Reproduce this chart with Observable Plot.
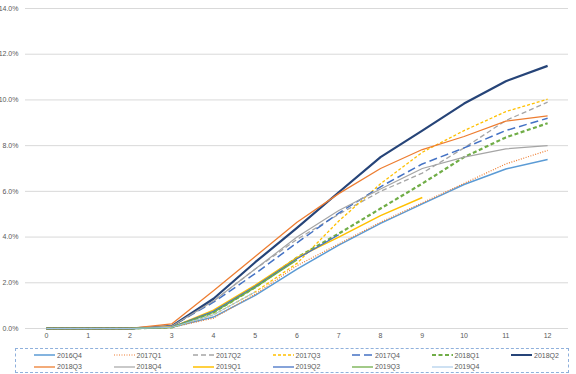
<!DOCTYPE html>
<html><head><meta charset="utf-8">
<script src="https://cdn.jsdelivr.net/npm/d3@7"></script>
<script src="https://cdn.jsdelivr.net/npm/@observablehq/plot@0.6"></script>
<style>
body{margin:0;background:#fff;font-family:"Liberation Sans",Arial,sans-serif}
#chart{position:relative;width:576px;height:374px;overflow:hidden}
#legend{position:absolute;left:15px;top:348px;width:554px;height:25px;border:1px dashed #8fb0dc;box-sizing:border-box}
.item{position:absolute;height:10px;display:flex;align-items:center;font-size:7px;color:#595959}
.item svg{margin-right:2px}
</style></head><body>
<div id="chart"></div>
<script>
const periods = [0,1,2,3,4,5,6,7,8,9,10,11,12];
const seriesNames = ["2016Q4","2017Q1","2017Q2","2017Q3","2017Q4","2018Q1","2018Q2","2018Q3","2018Q4","2019Q1","2019Q2","2019Q3","2019Q4"];
const s2016Q4 = [0,0,0,0.05,0.5,1.45,2.6,3.65,4.6,5.45,6.3,6.98,7.39];
const s2017Q1 = [0,0,0,0.05,0.45,1.5,2.75,3.7,4.65,5.5,6.35,7.2,7.79];
const s2017Q2 = [0,0,0,0.1,1.2,2.6,3.9,5.0,6.0,6.8,7.9,9.1,9.9];
const s2017Q3 = [0,0,0,0.05,0.6,1.6,2.85,4.7,6.33,7.71,8.66,9.49,10.03];
const s2017Q4 = [0,0,0,0.1,1.15,2.4,3.75,5.05,6.2,7.2,7.9,8.66,9.2];
const s2018Q1 = [0,0,0,0.05,0.7,1.8,3.1,4.15,5.25,6.34,7.5,8.36,8.98];
const s2018Q2 = [0,0,0,0.1,1.3,2.9,4.4,5.96,7.5,8.66,9.84,10.82,11.49];
const s2018Q3 = [0,0,0,0.2,1.65,3.15,4.65,5.9,7.0,7.83,8.4,9.07,9.3];
const s2018Q4 = [0,0,0,0.1,1.2,2.6,4.0,5.16,6.1,7.0,7.5,7.86,8.0];
const s2019Q1 = [0,0,0,0.05,0.8,1.9,3.1,4.0,4.94,5.73];
const s2019Q2 = [0,0,0,0.05,0.75,1.85,3.05,4.1];
const s2019Q3 = [0,0,0,0.05,0.7,1.8,3.0];
const s2019Q4 = [0,0,0,0.05,0.6,1.6];
const yTicks = [0,2,4,6,8,10,12,14];

const values = [s2016Q4,s2017Q1,s2017Q2,s2017Q3,s2017Q4,s2018Q1,s2018Q2,s2018Q3,s2018Q4,s2019Q1,s2019Q2,s2019Q3,s2019Q4];
const styles = [
  {stroke:"#5B9BD5", width:1.5, dash:null},
  {stroke:"#ED7D31", width:1.2, dash:"1,1.5"},
  {stroke:"#A5A5A5", width:1.3, dash:"5,3"},
  {stroke:"#FFC000", width:1.3, dash:"3,2"},
  {stroke:"#4472C4", width:1.5, dash:"8,4"},
  {stroke:"#70AD47", width:2.2, dash:"4,2.5"},
  {stroke:"#264478", width:2.2, dash:null},
  {stroke:"#ED7D31", width:1.3, dash:null},
  {stroke:"#A5A5A5", width:1.2, dash:null},
  {stroke:"#FFC000", width:1.5, dash:null},
  {stroke:"#4472C4", width:1.3, dash:null},
  {stroke:"#70AD47", width:1.3, dash:null},
  {stroke:"#9DC3E6", width:1.0, dash:null}
];

const rows = [];
seriesNames.forEach((name, i) => values[i].forEach((v, j) => rows.push({series:name, x:periods[j], y:v})));

const lineMarks = seriesNames.map((name, i) => Plot.line(rows.filter(r => r.series === name), {
  x:"x", y:"y", stroke: styles[i].stroke, strokeWidth: styles[i].width,
  strokeDasharray: styles[i].dash ?? undefined, strokeLinejoin:"round", strokeLinecap:"butt"
}));

const chart = Plot.plot({
  width:576, height:345,
  marginLeft:25, marginRight:8, marginTop:8, marginBottom:17,
  style:{fontFamily:"Liberation Sans, Arial, sans-serif", fontSize:"7px", color:"#595959", background:"#fff"},
  x:{domain:[-0.5,12.5], ticks:periods, tickFormat:d=>String(d), tickSize:0, tickPadding:5, label:null},
  y:{domain:[0,14], ticks:yTicks, tickFormat:d=>d.toFixed(1)+"%", tickSize:0, tickPadding:7, label:null},
  marks:[
    Plot.gridY(yTicks, {stroke:"#d9d9d9", strokeOpacity:1, strokeWidth:1}),
    ...lineMarks
  ]
});
const root = document.getElementById("chart");
root.appendChild(chart);

const legend = document.createElement("div");
legend.id = "legend";
seriesNames.forEach((name, i) => {
  const row = Math.floor(i / 7), col = i % 7;
  const it = document.createElement("div");
  it.className = "item";
  it.style.left = (18 + col * 79.5) + "px";
  it.style.top = (1 + row * 11.5) + "px";
  const s = styles[i];
  it.innerHTML = `<svg width="21" height="6"><line x1="0" y1="3" x2="21" y2="3" stroke="${s.stroke}" stroke-width="${Math.min(s.width,2)}" ${s.dash?`stroke-dasharray="${s.dash}"`:""}/></svg><span>${name}</span>`;
  legend.appendChild(it);
});
root.appendChild(legend);
</script>
</body></html>
